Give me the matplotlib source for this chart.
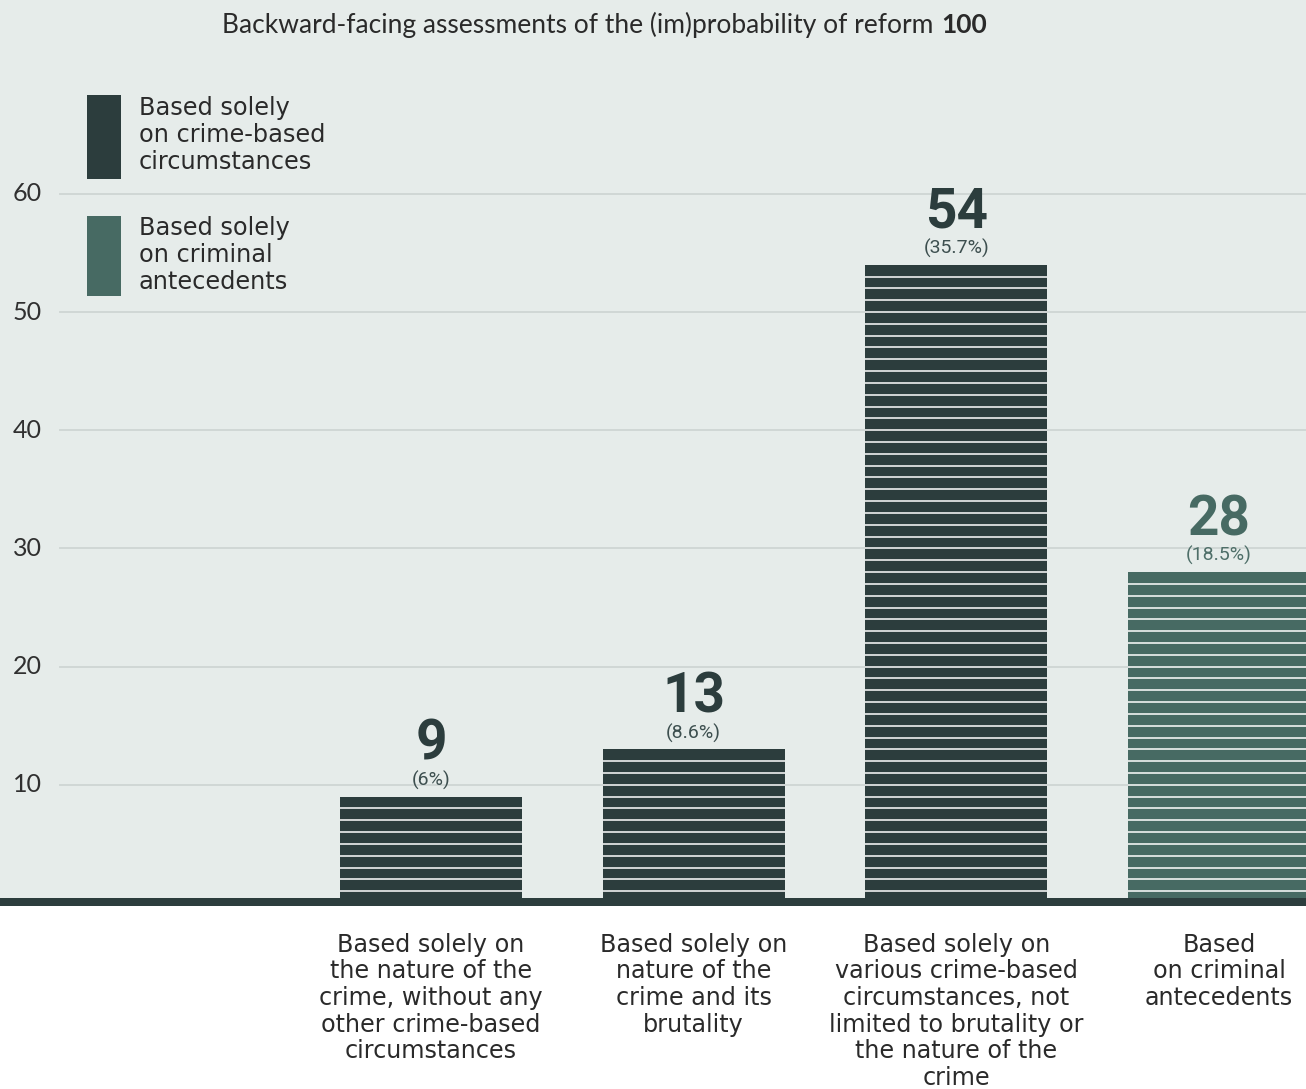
import matplotlib
matplotlib.use("Agg")
import matplotlib.pyplot as plt
from matplotlib.patches import Rectangle
from matplotlib import font_manager as fm

# ---- data -------------------------------------------------------------
title_text = "Backward-facing assessments of the (im)probability of reform"
total_cases = 100

categories = [
    "Based solely on\nthe nature of the\ncrime, without any\nother crime-based\ncircumstances",
    "Based solely on\nnature of the\ncrime and its\nbrutality",
    "Based solely on\nvarious crime-based\ncircumstances, not\nlimited to brutality or\nthe nature of the\ncrime",
    "Based\non criminal\nantecedents",
]
counts = [9, 13, 54, 28]
shares = ["6%", "8.6%", "35.7%", "18.5%"]
groups = ["crime", "crime", "crime", "antecedents"]

legend_groups = ["crime", "antecedents"]
legend_labels = [
    "Based solely\non crime-based\ncircumstances",
    "Based solely\non criminal\nantecedents",
]
y_ticks = [10, 20, 30, 40, 50, 60]

# ---- style ------------------------------------------------------------
W, H, DPI = 1306, 1089, 100
BG = "#e6ecea"
GRID = "#d0d7d5"
TEXT = "#2a2a2a"
colors = {"crime": "#2c3d3d", "antecedents": "#476a63"}
pct_colors = {"crime": "#3d4f4f", "antecedents": "#4f6f69"}

available = {f.name for f in fm.fontManager.ttflist}


def pick(*names):
    for n in names:
        if n in available:
            return n
    return "DejaVu Sans"


BODY = "DejaVu Sans"
NUM = pick("Roboto", "Liberation Sans")
LIGHT = pick("Lato", "DejaVu Sans")


def fx(px):
    return px / W


def fy(py):
    return 1 - py / H


fig = plt.figure(figsize=(W / DPI, H / DPI), dpi=DPI, facecolor="white")

# tinted panel behind the chart, ending at the baseline rule
fig.add_artist(Rectangle((0, fy(906)), 1, 1 - fy(906), transform=fig.transFigure,
                         facecolor=BG, edgecolor="none", zorder=-5))

zero_px, unit_px = 903, 11.82
ax = fig.add_axes([0, fy(zero_px), 1, zero_px / H])
ax.set_facecolor("none")
ax.set_ylim(0, zero_px / unit_px)

first_px, step_px = 431, 262.67
ax.set_xlim((0 - first_px) / step_px + 1, (W - first_px) / step_px + 1)
positions = list(range(1, len(counts) + 1))
bar_w = 182 / step_px

for s in ax.spines.values():
    s.set_visible(False)
ax.tick_params(axis="both", length=0)
ax.set_yticks([])

# horizontal grid with labels at the far left
for v in y_ticks:
    ax.axhline(v, xmin=fx(60), xmax=1, color=GRID, lw=1.4, zorder=1)
    ax.text(fx(13), v, str(v), transform=ax.get_yaxis_transform(), ha="left",
            va="center", fontsize=18, family=LIGHT, color="#303030")

# bars made of unit blocks separated by thin white rules
for x, v, g, pct in zip(positions, counts, groups, shares):
    ax.bar(x, v, width=bar_w, color=colors[g], zorder=2)
    for k in range(1, v):
        ax.hlines(k, x - bar_w / 2, x + bar_w / 2, color="white", lw=1.1, zorder=3)
    ax.annotate(str(v), xy=(x, v), xytext=(0, 37 * 72 / DPI), textcoords="offset points",
                ha="center", va="baseline", fontsize=39.5, weight="bold", family=NUM,
                color=colors[g], annotation_clip=False)
    ax.annotate(f"({pct})", xy=(x, v), xytext=(0, 11 * 72 / DPI), textcoords="offset points",
                ha="center", va="baseline", fontsize=14, family=NUM,
                color=pct_colors[g], annotation_clip=False)

# category labels below the baseline
ax.set_xticks(positions)
ax.set_xticklabels(categories, family=BODY, fontsize=17.2, color=TEXT,
                   linespacing=1.135, va="top")
ax.tick_params(axis="x", pad=21.5)

# baseline rule
fig.add_artist(Rectangle((0, fy(906)), 1, fy(897.5) - fy(906), transform=fig.transFigure,
                         facecolor=colors["crime"], edgecolor="none", zorder=5))

# legend
legend_boxes = [(95, 179), (216, 296)]
legend_tops = [96, 216]
for g, lab, (top, bot), ytop in zip(legend_groups, legend_labels, legend_boxes, legend_tops):
    fig.add_artist(Rectangle((fx(87), fy(bot)), fx(121) - fx(87), fy(top) - fy(bot),
                             transform=fig.transFigure, facecolor=colors[g],
                             edgecolor="none", zorder=6))
    fig.text(fx(139), fy(ytop), lab, ha="left", va="top", fontsize=17.3,
             family=BODY, color=TEXT, linespacing=1.17)

# title with bold total
renderer = fig.canvas.get_renderer()
t1 = fig.text(fx(222), fy(33), title_text, ha="left", va="baseline", fontsize=19,
              family=LIGHT, color=TEXT)
bb = t1.get_window_extent(renderer)
fig.text((bb.x1 + 8) / W, fy(33), str(total_cases), ha="left", va="baseline",
         fontsize=19, family=LIGHT, weight="bold", color=TEXT)

fig.savefig("out.png", dpi=DPI, facecolor=fig.get_facecolor())
